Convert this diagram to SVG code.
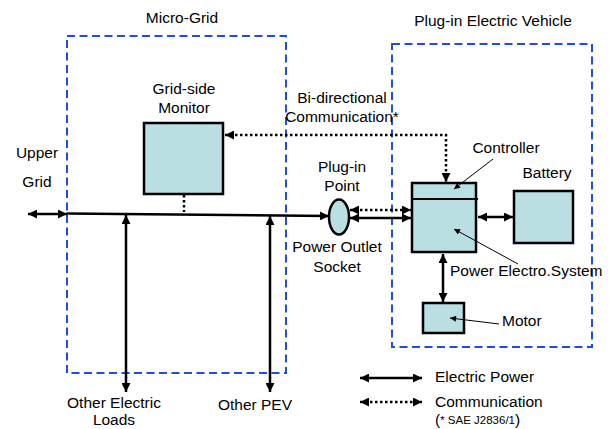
<svg xmlns="http://www.w3.org/2000/svg" width="612" height="429" viewBox="0 0 612 429">
<style>
text{font-family:"Liberation Sans",Arial,sans-serif;font-size:15.5px;fill:#000}
.mid{text-anchor:middle}
.box{fill:#badfe2;stroke:#000;stroke-width:2.5}
.dash{fill:none;stroke:#1f4fd8;stroke-width:2;stroke-dasharray:8 4.5}
.pw{fill:none;stroke:#000;stroke-width:2.5}
.cm{fill:none;stroke:#000;stroke-width:2.5;stroke-dasharray:2.5 2.5}
.ld{fill:none;stroke:#000;stroke-width:1}
</style>
<defs>
<marker id="ah" viewBox="0 0 10 10" refX="10" refY="5" markerUnits="userSpaceOnUse" markerWidth="10" markerHeight="9" orient="auto-start-reverse">
<path d="M0,0 L10,5 L0,10 z" fill="#000"/>
</marker>
<marker id="sh" viewBox="0 0 10 10" refX="10" refY="5" markerUnits="userSpaceOnUse" markerWidth="7" markerHeight="6" orient="auto">
<path d="M0,0 L10,5 L0,10 z" fill="#000"/>
</marker>
</defs>
<rect width="612" height="429" fill="#fff"/>

<g id="micro-grid">
<rect class="dash" x="67" y="36" width="219" height="337"/>
<text class="mid" x="182" y="23">Micro-Grid</text>
</g>

<g id="pev">
<rect class="dash" x="392" y="44" width="200" height="303"/>
<text class="mid" x="493" y="26">Plug-in Electric Vehicle</text>
</g>

<g id="upper-grid">
<text class="mid" x="37" y="158">Upper</text>
<text class="mid" x="37" y="187">Grid</text>
</g>

<g id="monitor">
<rect class="box" x="144" y="123" width="79" height="71"/>
<text class="mid" x="184" y="94">Grid-side</text>
<text class="mid" x="184" y="113">Monitor</text>
</g>

<g id="plug-in-point">
<ellipse class="box" cx="339" cy="217" rx="10" ry="17.5"/>
<text class="mid" x="342" y="172">Plug-in</text>
<text class="mid" x="342" y="191">Point</text>
<text class="mid" x="337" y="252">Power Outlet</text>
<text class="mid" x="337" y="272">Socket</text>
</g>

<g id="power-electro-system">
<rect class="box" x="412" y="183" width="64" height="69"/>
<line x1="412" y1="199" x2="478" y2="199" stroke="#000" stroke-width="2"/>
<text x="506" y="153" class="mid">Controller</text>
<text x="450" y="276">Power Electro.System</text>
</g>

<g id="battery">
<rect class="box" x="514" y="191" width="59" height="52"/>
<text class="mid" x="547" y="178">Battery</text>
</g>

<g id="motor">
<rect class="box" x="423" y="303" width="41" height="30"/>
<text x="502" y="326">Motor</text>
</g>

<g id="other-loads">
<text class="mid" x="114" y="408">Other Electric</text>
<text class="mid" x="114" y="425">Loads</text>
</g>

<g id="other-pev">
<text class="mid" x="255" y="410">Other PEV</text>
</g>

<g id="bidirectional-label">
<text class="mid" x="342" y="103">Bi-directional</text>
<text class="mid" x="342" y="122">Communication*</text>
</g>

<g id="connectors">
<line class="pw" x1="28" y1="214" x2="67" y2="214" marker-start="url(#ah)" marker-end="url(#ah)"/>
<line class="pw" x1="67" y1="213.5" x2="329" y2="216" marker-end="url(#ah)"/>
<line class="cm" x1="184" y1="195" x2="184" y2="212"/>
<line class="pw" x1="126" y1="215" x2="126" y2="392" marker-start="url(#ah)" marker-end="url(#ah)"/>
<line class="pw" x1="270" y1="216" x2="270" y2="392" marker-start="url(#ah)" marker-end="url(#ah)"/>
<polyline class="cm" points="225,135 446,135 446,182" marker-start="url(#ah)" marker-end="url(#ah)"/>
<line class="cm" x1="350" y1="210" x2="411" y2="210" marker-start="url(#ah)" marker-end="url(#ah)"/>
<line class="pw" x1="350" y1="218" x2="411" y2="218" marker-start="url(#ah)" marker-end="url(#ah)"/>
<line class="pw" x1="478" y1="217" x2="513" y2="217" marker-start="url(#ah)" marker-end="url(#ah)"/>
<line class="pw" x1="443" y1="254" x2="443" y2="302" marker-start="url(#ah)" marker-end="url(#ah)"/>
<line class="ld" x1="493" y1="159" x2="454" y2="189" marker-end="url(#sh)"/>
<line class="ld" x1="518" y1="264" x2="454" y2="229" marker-end="url(#sh)"/>
<line class="ld" x1="499" y1="324" x2="450" y2="318" marker-end="url(#sh)"/>
</g>

<g id="legend">
<line class="pw" x1="360" y1="378" x2="422" y2="378" marker-start="url(#ah)" marker-end="url(#ah)"/>
<text x="435" y="382">Electric Power</text>
<line class="cm" x1="360" y1="402" x2="422" y2="402" marker-start="url(#ah)" marker-end="url(#ah)"/>
<text x="435" y="407">Communication</text>
<text x="435" y="425">(<tspan style="font-size:11.5px" dy="-1">* SAE J2836/1</tspan><tspan dy="1">)</tspan></text>
</g>
</svg>
